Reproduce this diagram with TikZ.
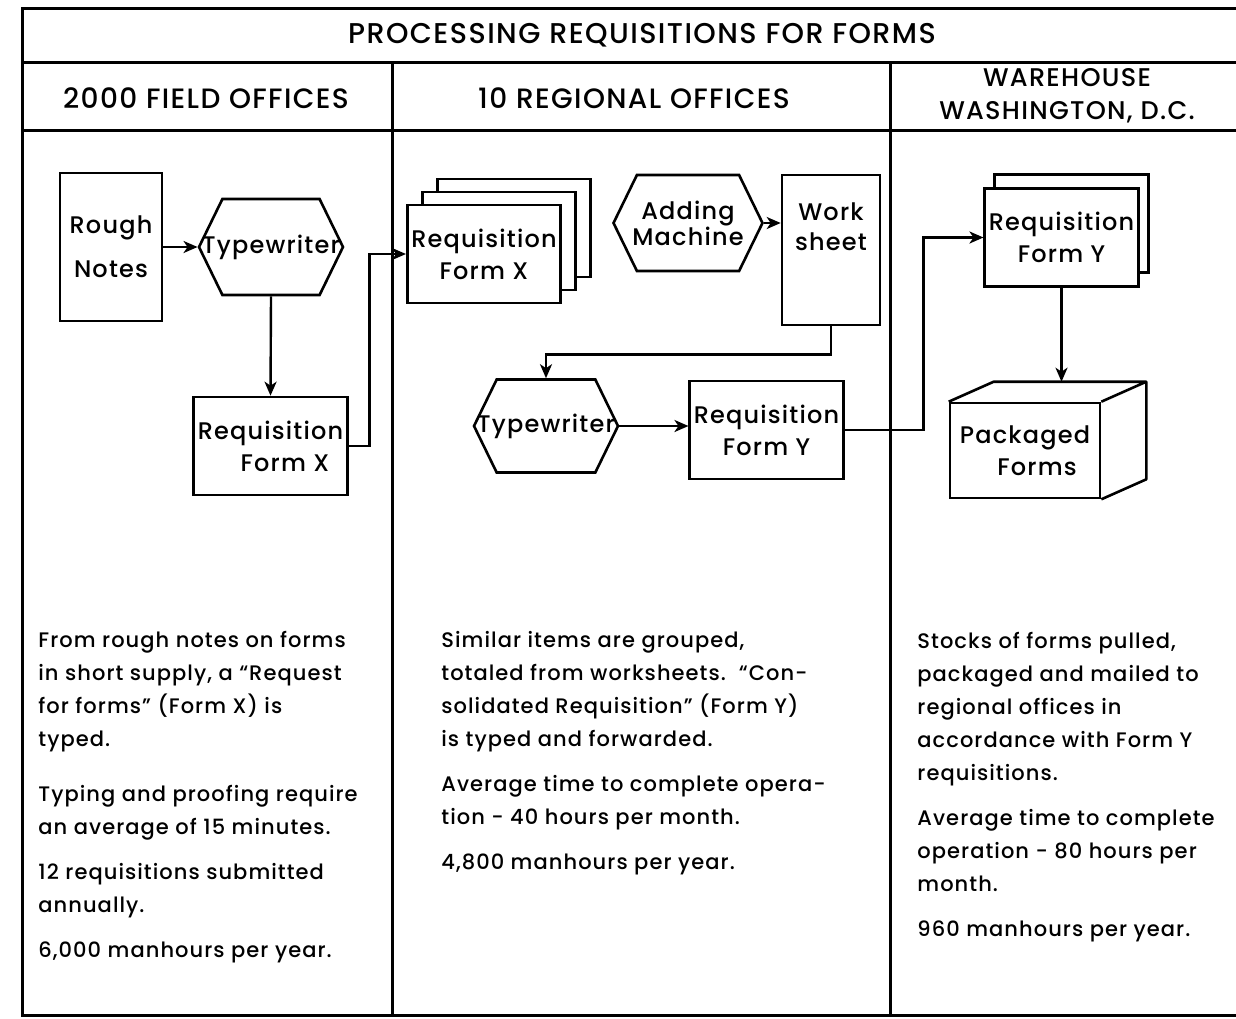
\documentclass[tikz,border=0pt]{standalone}
\usepackage{fontspec}
\setmainfont{Poppins}[UprightFont=* Medium,LetterSpace=5]
\usepackage{tikz}
\usetikzlibrary{arrows.meta,positioning,calc,shapes.symbols,shadows}
\tikzset{
  rule/.style  ={line width=1.5pt},
  blk/.style   ={draw,fill=white,line width=1.3pt,align=center,inner sep=2pt,
                 font=\fontsize{12}{16}\selectfont},
  doc/.style   ={blk,minimum width=76.5pt,minimum height=49pt},
  mach/.style  ={blk,signal,signal to=west and east,signal pointer angle=128,
                 minimum width=72pt,minimum height=48pt},
  flow/.style  ={-{Stealth[length=7pt,width=6pt,inset=2pt]},line width=1.2pt},
  note/.style  ={anchor=north west,align=left,inner sep=0pt,
                 font=\fontsize{10.5}{16.5}\selectfont},
  head/.style  ={align=center,font=\fontsize{14}{16.5}\selectfont},
}

\begin{document}
\begin{tikzpicture}[x=0.5pt,y=-0.5pt]
  \useasboundingbox (0,0) rectangle (1236,1018);
  % frame
  \draw[rule] (1236,8) -- (22,8) -- (22,1015) -- (1236,1015);
  \draw[rule] (22,62) -- (1236,62) (22,130) -- (1236,130);
  \foreach \x in {392,890} \draw[rule] (\x,62) -- (\x,1015);
  \node[font=\fontsize{14.3}{17}\selectfont] (title) at (642,35) {PROCESSING REQUISITIONS FOR FORMS};
  \node[head] (hfield) at (206,98) {2000 FIELD OFFICES};
  \node[head] (hreg)   at (634,98) {10 REGIONAL OFFICES};
  \node[head,font=\fontsize{12.8}{16.5}\selectfont] (hware) at (1067,96) {WAREHOUSE\\WASHINGTON, D.C.};

  % field offices
  \node[blk,minimum width=51pt,minimum height=74pt] (rough) at (111,247) {Rough\\[6pt]Notes};
  \node[mach] (type1) at (271,247) {\makebox[0pt]{Typewriter}};
  \node[doc] (reqx1) at (270.5,446) {Requisition\\\hspace*{1.2em}Form X};

  % regional offices
  \node[doc,minimum width=76pt,double copy shadow={shadow xshift=7.5pt,shadow yshift=6.5pt}]
    (stackx) at (484,254) {Requisition\\Form X};
  \node[mach,minimum width=74.5pt] (add) at (688,223) {\makebox[0pt]{Adding}\\[-3pt]\makebox[0pt]{Machine}};
  \node[blk,minimum width=49pt,minimum height=75pt,
    label={[align=center,anchor=north,yshift=-11pt,font=\fontsize{12}{15}\selectfont]north:Work\\sheet}]
    (work) at (831,250) {};
  \node[mach,minimum height=46.5pt] (type2) at (546,426) {\makebox[0pt]{Typewriter}};
  \node[doc] (reqy1) at (766.5,430) {Requisition\\Form Y};

  % warehouse
  \node[doc,copy shadow={shadow xshift=5pt,shadow yshift=7pt}] (reqy2) at (1061.5,237.5) {Requisition\\Form Y};
  \node[blk,minimum width=75pt,minimum height=47.5pt] (pack) at (1025,450.5) {Packaged\\\hspace*{1em}Forms};
  \draw[line width=1.3pt,line join=round] (pack.north west) -- ++(45,-20) coordinate (packtop)
    -- ([shift={(45,-20)}]pack.north east) -- ([shift={(45,-20)}]pack.south east) -- (pack.south east)
    (pack.north east) -- ([shift={(45,-20)}]pack.north east);

  % flow
  \draw[flow] (rough.east) -- (type1.west);
  \draw[flow] (type1.south) -- (reqx1.north);
  \draw[flow] (reqx1.east) -- ++(21,0) |- (stackx.west);
  \draw[flow] (add.east) -- (add.east -| work.west);
  \draw[flow] (work.south) -- ++(0,28) -| (type2.north);
  \draw[flow] (type2.east) -- (type2.east -| reqy1.west);
  \draw[flow] (reqy1.east) -- ++(79,0) |- (reqy2.west);
  \draw[flow] (reqy2.south) -- (reqy2.south |- packtop);

  % notes
  \node[note] (nfield) at (38,631) {From rough notes on forms\\in short supply, a ``Request\\for forms'' (Form X) is\\typed.\\[11pt]
    Typing and proofing require\\an average of 15 minutes.\\[6pt]
    12 requisitions submitted\\annually.\\[6pt]
    6,000 manhours per year.};
  \node[note] (nreg) at (441,631) {Similar items are grouped,\\totaled from worksheets.\ \ ``Con-\\solidated Requisition'' (Form Y)\\is typed and forwarded.\\[6pt]
    Average time to complete opera-\\tion - 40 hours per month.\\[6pt]
    4,800 manhours per year.};
  \node[note] (nware) at (917,632) {Stocks of forms pulled,\\packaged and mailed to\\regional offices in\\accordance with Form Y\\requisitions.\\[6pt]
    Average time to complete\\operation - 80 hours per\\month.\\[6pt]
    960 manhours per year.};
\end{tikzpicture}
\end{document}
